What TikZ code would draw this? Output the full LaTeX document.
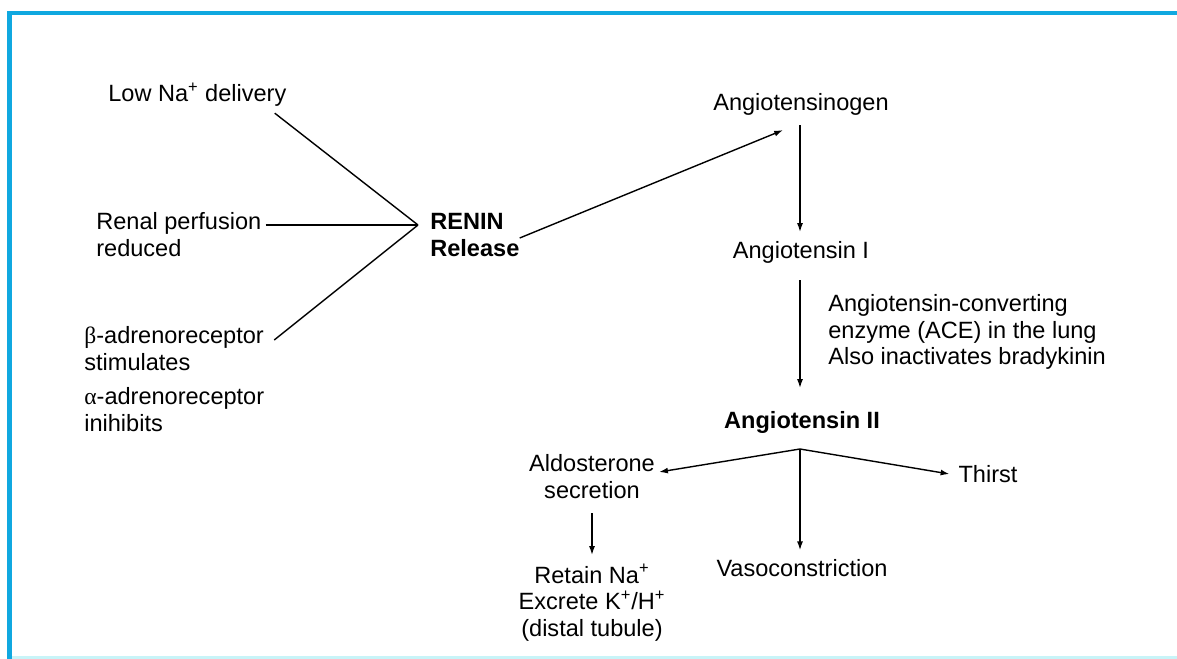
\documentclass[tikz,border=0pt]{standalone}
\usepackage{fontspec}
\setmainfont{Liberation Sans}
\newfontfamily\greekfont{Liberation Serif}
\usetikzlibrary{arrows.meta,calc}
\definecolor{framec}{RGB}{16,168,224}
\definecolor{edgec}{RGB}{200,244,248}

\begin{document}
\begin{tikzpicture}[x=0.02cm, y=-0.02cm]
        \tikzstyle{every node}=[inner sep=0pt, font=\fontsize{13.4}{15.3}\selectfont]
        \tikzstyle{lbl}=[inner sep=5pt]
        \tikzstyle{link}=[line width=0.8pt]
        \tikzstyle{arr}=[line width=0.8pt, -{Latex[length=5pt,width=3.4pt]}]
        \useasboundingbox (0,0) rectangle (1177,659);
        % frame
        \fill[framec] (7,11) rectangle (1177,15);
        \fill[framec] (7,11) rectangle (12,659);
        \fill[edgec] (12,656) rectangle (1177,659);
        % causes of renin release
        \node [anchor=west] (lowna) at (108,95) {Low Na\textsuperscript{+} delivery};
        \node [anchor=west, align=left] (renal) at (96,235) {Renal perfusion\\reduced};
        \node [anchor=west, align=left] (beta) at (84,349) {{\greekfont β}-adrenoreceptor\\stimulates};
        \node [anchor=west, align=left] (alpha) at (84,410) {{\greekfont α}-adrenoreceptor\\inihibits};
        \node [anchor=west, align=left, font=\fontsize{13.4}{15.3}\selectfont\bfseries] (renin) at (430,235) {RENIN\\Release};
        \coordinate (hub) at (418,225);
        \draw [link] ($(lowna.south east)+(-12,6)$) -- (hub);
        \draw [link] ($(renal.east)+(4,-10)$) -- (hub);
        \draw [link] ($(beta.east)+(10,-9)$) -- (hub);
        % cascade
        \node [lbl] (agen) at (801,104) {Angiotensinogen};
        \node [lbl] (ang1) at (801,252) {Angiotensin I};
        \node [lbl, font=\fontsize{13.4}{15.3}\selectfont\bfseries] (ang2) at (802,422) {Angiotensin II};
        \node [anchor=west, align=left] (ace) at (828,332) {Angiotensin-converting\\enzyme (ACE) in the lung\\Also inactivates bradykinin};
        \draw [arr] ($(renin.east)+(0,3)$) -- ($(agen.south)+(-18,6)$);
        \draw [arr] (800,125) -- (800,232);
        \draw [arr] (800,280) -- (800,388);
        % effects of angiotensin II
        \coordinate (split) at (800,449);
        \node [align=center] (ald) at (592,477) {Aldosterone\\secretion};
        \node [lbl] (thirst) at (988,474) {Thirst};
        \node [lbl] (vaso) at (802,568) {Vasoconstriction};
        \node [align=center] (retain) at (592,603) {Retain Na\textsuperscript{+}\\Excrete K\textsuperscript{+}/H\textsuperscript{+}\\(distal tubule)};
        \draw [arr] (split) -- ($(ald.east)+(4,-5)$);
        \draw [arr] (split) -- (thirst.west);
        \draw [arr] (split) -- (split |- vaso.north);
        \draw [arr] ($(ald.south)+(0,14)$) -- ($(retain.north)+(0,-9)$);
    \end{tikzpicture}
\end{document}
